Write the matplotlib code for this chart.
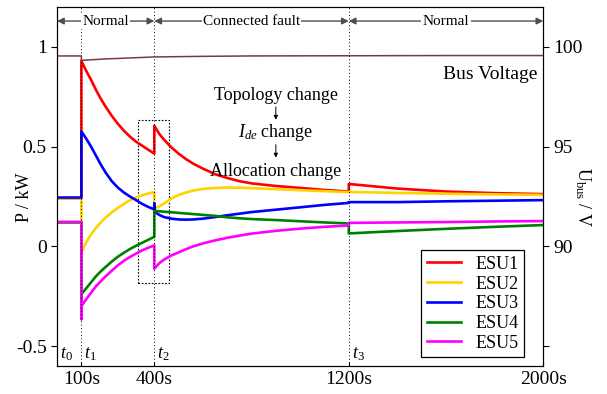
import matplotlib
matplotlib.use('Agg')
import matplotlib.pyplot as plt
from matplotlib.patches import Rectangle

plt.rcParams['font.family'] = 'serif'
plt.rcParams['font.serif'] = ['Liberation Serif', 'DejaVu Serif']
plt.rcParams['mathtext.fontset'] = 'custom'
plt.rcParams['mathtext.rm'] = 'Liberation Serif'
plt.rcParams['mathtext.it'] = 'Liberation Serif:italic'

# time axis (s), repeated points at the switching instants
t = [0, 100, 100, 100, 120, 140, 160, 180, 200, 225, 250, 275, 300, 325, 350, 375,
     400, 400, 400, 420, 440, 470, 500, 530, 560, 600, 650, 700, 750, 800, 900, 1000, 1100,
     1200, 1200, 1200, 1400, 1600, 1800, 2000]

# ESU power (kW)
esu1 = [0.24, 0.24, 0.93, 0.93, 0.88, 0.835, 0.785, 0.74, 0.70, 0.655, 0.615, 0.58, 0.55, 0.525, 0.505, 0.485,
        0.465, 0.605, 0.605, 0.565, 0.535, 0.497, 0.465, 0.438, 0.415, 0.39, 0.362, 0.343, 0.327, 0.316, 0.303, 0.293, 0.283,
        0.275, 0.313, 0.313, 0.29, 0.275, 0.267, 0.262]
esu2 = [0.24, 0.24, -0.03, -0.03, 0.02, 0.06, 0.093, 0.12, 0.145, 0.17, 0.193, 0.213, 0.232, 0.245, 0.256, 0.265,
        0.272, 0.19, 0.19, 0.2, 0.215, 0.24, 0.258, 0.27, 0.28, 0.288, 0.293, 0.295, 0.294, 0.292, 0.287, 0.282, 0.277,
        0.272, 0.273, 0.273, 0.268, 0.264, 0.261, 0.258]
esu3 = [0.245, 0.245, 0.577, 0.577, 0.54, 0.50, 0.455, 0.41, 0.37, 0.327, 0.295, 0.27, 0.25, 0.232, 0.213, 0.198,
        0.185, 0.215, 0.175, 0.158, 0.147, 0.139, 0.135, 0.134, 0.135, 0.139, 0.147, 0.156, 0.164, 0.172, 0.184, 0.196, 0.208,
        0.218, 0.222, 0.222, 0.222, 0.226, 0.229, 0.232]
esu4 = [0.12, 0.12, -0.27, -0.24, -0.21, -0.18, -0.15, -0.125, -0.103, -0.076, -0.052, -0.032, -0.013, 0.003, 0.018, 0.033,
        0.048, 0.178, 0.178, 0.176, 0.174, 0.171, 0.168, 0.165, 0.162, 0.158, 0.153, 0.146, 0.141, 0.137, 0.132, 0.126, 0.12,
        0.115, 0.065, 0.065, 0.077, 0.088, 0.098, 0.107]
esu5 = [0.123, 0.123, -0.365, -0.30, -0.265, -0.232, -0.2, -0.175, -0.15, -0.122, -0.095, -0.072, -0.053, -0.036, -0.02, -0.007,
        0.005, -0.112, -0.112, -0.085, -0.066, -0.046, -0.03, -0.014, 0.0, 0.015, 0.03, 0.043, 0.054, 0.064, 0.078, 0.089, 0.098,
        0.105, 0.118, 0.118, 0.12, 0.122, 0.125, 0.127]

# bus voltage (V)
t_bus = [0, 100, 100, 200, 300, 400, 600, 800, 1200, 1600, 2000]
u_bus = [99.55, 99.55, 99.33, 99.4, 99.45, 99.5, 99.53, 99.55, 99.56, 99.57, 99.57]

names = ['ESU1', 'ESU2', 'ESU3', 'ESU4', 'ESU5']
colors = ['#ff0000', '#ffd200', '#0000ff', '#008000', '#ff00ff']
x_ticks = [100, 400, 1200, 2000]
x_labels = ['100s', '400s', '1200s', '2000s']
events = [100, 400, 1200]

fig = plt.figure(figsize=(6.07, 3.94), dpi=100)
ax = fig.add_axes([0.094, 0.071, 0.801, 0.911])

for vals, name, c in zip([esu1, esu2, esu3, esu4, esu5], names, colors):
    ax.plot(t, vals, color=c, lw=1.9, label=name)

for ev in events:
    ax.axvline(ev, color='k', ls=(0, (1, 2.5)), lw=0.7)

ax.add_patch(Rectangle((334, -0.185), 128, 0.82, fill=False, ls=(0, (1.5, 1.5)), lw=0.8, ec='k'))

ax.set_xlim(0, 2000)
ax.set_ylim(-0.6, 1.2)
ax.set_xticks(x_ticks)
ax.set_xticklabels(x_labels, fontsize=14)
ax.set_yticks([-0.5, 0, 0.5, 1])
ax.set_yticklabels(['-0.5', '0', '0.5', '1'], fontsize=14)
ax.tick_params(axis='x', direction='in', length=3)
ax.tick_params(axis='y', direction='out', length=4)
ax.set_ylabel('P / kW', fontsize=13)
ax.yaxis.set_label_coords(-0.05, 0.47)

# phase arrows on top
for a, b, lab in [(0, 400, 'Normal'), (400, 1200, 'Connected fault'), (1200, 2000, 'Normal')]:
    ax.annotate('', xy=(a, 1.13), xytext=(b, 1.13),
                arrowprops=dict(arrowstyle='<|-|>', color='0.3', lw=1, shrinkA=0, shrinkB=0,
                                mutation_scale=10))
    ax.text((a + b) / 2, 1.13, lab, ha='center', va='center', fontsize=11,
            bbox=dict(fc='white', ec='none', pad=1))

ax.text(900, 0.755, 'Topology change', ha='center', va='center', fontsize=13)
ax.text(900, 0.57, '$I_{de}$ change', ha='center', va='center', fontsize=13)
ax.text(900, 0.375, 'Allocation change', ha='center', va='center', fontsize=13)
ax.annotate('', xy=(900, 0.635), xytext=(900, 0.70),
            arrowprops=dict(arrowstyle='-|>', color='k', lw=0.7, mutation_scale=6, shrinkA=0, shrinkB=0))
ax.annotate('', xy=(900, 0.445), xytext=(900, 0.51),
            arrowprops=dict(arrowstyle='-|>', color='k', lw=0.7, mutation_scale=6, shrinkA=0, shrinkB=0))

ax.text(1975, 0.86, 'Bus Voltage', ha='right', va='center', fontsize=14)

for tx, lab in [(14, '$t_0$'), (110, '$t_1$'), (410, '$t_2$'), (1212, '$t_3$')]:
    ax.text(tx, -0.585, lab, ha='left', va='bottom', fontsize=13)

leg = ax.legend(loc='lower right', bbox_to_anchor=(0.961, 0.025), borderaxespad=0,
                fontsize=13, handlelength=1.9, fancybox=False, framealpha=1,
                edgecolor='k', labelspacing=0.15, borderpad=0.3)
leg.get_frame().set_linewidth(0.9)

ax2 = ax.twinx()
ax2.plot(t_bus, u_bus, color='#7a3a3a', lw=1.1)
ax2.set_ylim(84, 102)
ax2.set_yticks([85, 90, 95, 100])
ax2.set_yticklabels(['', '90', '95', '100'], fontsize=14)
ax2.tick_params(axis='y', direction='out', length=4)
ax2.set_ylabel('U$_\\mathrm{bus}$ / V', fontsize=13, rotation=-90)
ax2.yaxis.set_label_coords(1.102, 0.47)

fig.savefig('out.png', dpi=100)
